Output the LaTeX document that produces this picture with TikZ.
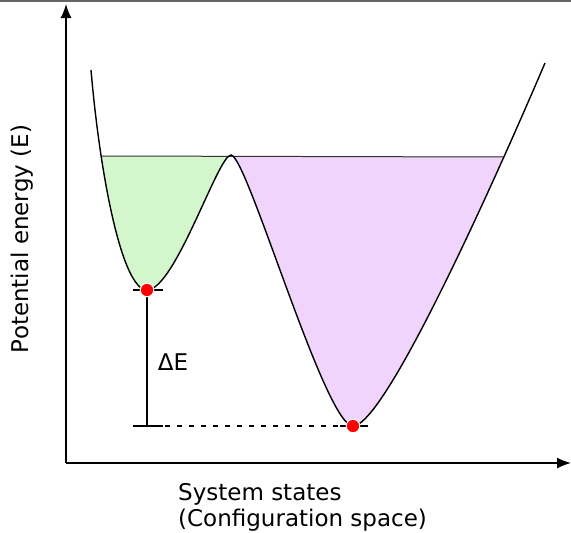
\documentclass[tikz,border=0pt]{standalone}
\usepackage{fontspec}
\setmainfont{DejaVu Sans}
\usetikzlibrary{arrows.meta}
\definecolor{wellA}{RGB}{212,246,204}
\definecolor{wellB}{RGB}{240,212,252}

\begin{document}
\begin{tikzpicture}[x=1pt,y=-1pt]
\tikzstyle{axis}=[line width=1.5pt,-{Latex[length=14pt,width=11pt]}]
\tikzstyle{axislabel}=[inner sep=0pt,font=\fontsize{23}{26}\selectfont]
\tikzstyle{statedot}=[circle,fill=red,draw=white,line width=1pt,inner sep=0pt,minimum size=13.5pt]
\tikzstyle{tick}=[line width=2.2pt]

	\useasboundingbox (0,0) rectangle (571,533);
	\draw [gray!80!black,line width=1.5pt] (0,0.75) -- (571,0.75);

	\coordinate (origin) at (66,463);
	\coordinate (ytop) at (66,4);
	\coordinate (xend) at (571,463);
	\draw [axis] (origin) -- (ytop);
	\draw [axis] (origin) -- (xend);

	\coordinate (minA) at (147,290);
	\coordinate (minB) at (353,426);
	\coordinate (peak) at (231,155);
	\coordinate (base) at (147,426);

	\path [save path=\energypath] (91,70) .. controls (100,175) and (122,290) .. (minA)
		.. controls (175,290) and (218,155) .. (peak)
		.. controls (247,155) and (325,426) .. (minB)
		.. controls (385,426) and (495,180) .. (545,63);

	\begin{scope}
		\clip (0,156) rectangle (231,500);
		\fill [wellA,use path=\energypath];
	\end{scope}
	\begin{scope}
		\clip (231,156.5) rectangle (571,500);
		\fill [wellB,use path=\energypath];
	\end{scope}

	\draw [black!80,line width=1pt] (102,156) -- (504,157);
	\draw [line width=1.4pt,use path=\energypath];

	\draw [tick] (133,290) -- (163,290);
	\draw [tick] (340,426) -- (368,426);
	\draw [tick] (133,426) -- (163,426);
	\draw [line width=2pt] (minA) -- (base);
	\draw [tick,dash pattern=on 5pt off 7pt] (165,426) -- (340,426);

	\node[statedot] (dotA) at (minA) {};
	\node[statedot] (dotB) at (minB) {};

	\node[axislabel] (dE) at (173,362) {ΔE};
	\node[axislabel,rotate=90] (ylabel) at (22,239) {Potential energy (E)};
	\node[axislabel,anchor=north west,align=left] (xlabel) at (178,483) {System states\\(Configuration space)};

\end{tikzpicture}
\end{document}
